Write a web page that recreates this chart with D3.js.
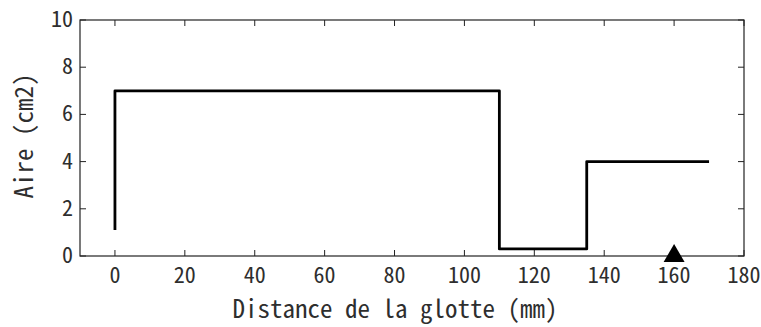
<!DOCTYPE html>
<html><head><meta charset="utf-8">
<script src="https://cdn.jsdelivr.net/npm/d3@7"></script>
<style>body{margin:0;background:#fff}svg{display:block}text{font-family:"Noto Sans Mono CJK JP","Noto Sans CJK JP","DejaVu Sans Mono",monospace;fill:#2e2e2e}</style>
</head><body><svg id="c" width="761" height="327"></svg>
<script>
const distance = [0, 0, 110, 110, 135, 135, 170];
const aire = [1.1, 7, 7, 0.3, 0.3, 4, 4];
const markerX = [160];
const xTicks = [0, 20, 40, 60, 80, 100, 120, 140, 160, 180];
const yTicks = [0, 2, 4, 6, 8, 10];
const xLabel = "Distance de la glotte (mm)";
const yLabel = "Aire (cm2)";

const svg = d3.select("#c");
const L = 80, R = 744, T = 20, B = 256;
const x = d3.scaleLinear().domain([-10, 180]).range([L, R]);
const y = d3.scaleLinear().domain([0, 10]).range([B, T]);

const g = svg.append("g");
const tl = 6;
g.append("rect").attr("x", L).attr("y", T).attr("width", R - L).attr("height", B - T)
  .attr("fill", "none").attr("stroke", "#222").attr("stroke-width", 1.2);
xTicks.forEach(t => {
  g.append("line").attr("x1", x(t)).attr("x2", x(t)).attr("y1", B).attr("y2", B - tl).attr("stroke", "#222");
  g.append("line").attr("x1", x(t)).attr("x2", x(t)).attr("y1", T).attr("y2", T + tl).attr("stroke", "#222");
  g.append("text").attr("x", x(t)).attr("y", B + 27).attr("text-anchor", "middle")
    .attr("font-size", 22).text(t);
});
yTicks.forEach(t => {
  g.append("line").attr("y1", y(t)).attr("y2", y(t)).attr("x1", L).attr("x2", L + tl).attr("stroke", "#222");
  g.append("line").attr("y1", y(t)).attr("y2", y(t)).attr("x1", R).attr("x2", R - tl).attr("stroke", "#222");
  g.append("text").attr("x", L - 7).attr("y", y(t) + 7).attr("text-anchor", "end")
    .attr("font-size", 22).text(t);
});
const pts = distance.map((d, i) => [d, aire[i]]);
g.append("path").datum(pts)
  .attr("d", d3.line().x(d => x(d[0])).y(d => y(d[1])))
  .attr("fill", "none").attr("stroke", "#000").attr("stroke-width", 2.8)
  .attr("stroke-linejoin", "round");
markerX.forEach(m => {
  g.append("path").attr("d", d3.symbol().type(d3.symbolTriangle).size(190)())
    .attr("transform", `translate(${x(m)},${B})`).attr("fill", "#000");
});
svg.append("text").attr("x", 395).attr("y", 318).attr("text-anchor", "middle")
  .attr("font-size", 25).text(xLabel);
svg.append("text").attr("transform", `translate(33,136) rotate(-90)`)
  .attr("text-anchor", "middle").attr("font-size", 25).text(yLabel);
</script></body></html>
